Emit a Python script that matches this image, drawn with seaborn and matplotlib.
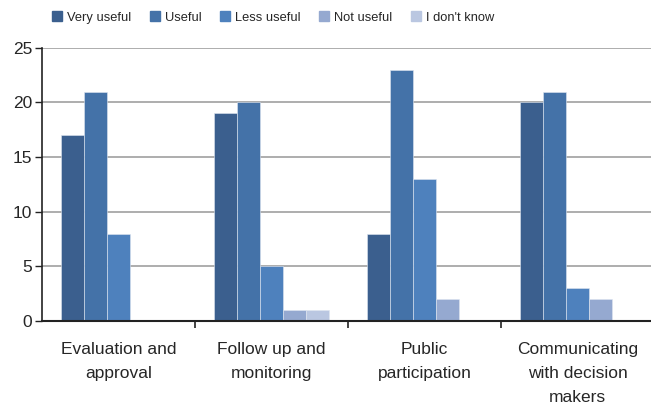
import pandas as pd
import matplotlib
matplotlib.use("Agg")
import matplotlib.pyplot as plt
import seaborn as sns

# data
categories = ["Evaluation and\napproval", "Follow up and\nmonitoring",
              "Public\nparticipation", "Communicating\nwith decision\nmakers"]
series = ["Very useful", "Useful", "Less useful", "Not useful", "I don't know"]
very_useful = [17, 19, 8, 20]
useful = [21, 20, 23, 21]
less_useful = [8, 5, 13, 3]
not_useful = [0, 1, 2, 2]
dont_know = [0, 1, 0, 0]
colors = ["#3b5f8e", "#4472a8", "#4e81bd", "#95a9d0", "#bac7e1"]

rows = []
for name, vals in zip(series, [very_useful, useful, less_useful, not_useful, dont_know]):
    for cat, v in zip(categories, vals):
        rows.append({"category": cat, "answer": name, "count": v})
df = pd.DataFrame(rows)

sns.set_style("white")
plt.rcParams["font.family"] = ["Liberation Sans", "DejaVu Sans"]

fig = plt.figure(figsize=(6.51, 4.05), dpi=100)
ax = fig.add_axes([0.0645, 0.207, 0.94, 0.675])

sns.barplot(data=df, x="category", y="count", hue="answer", hue_order=series,
            palette=colors, saturation=1, width=0.75, edgecolor="#dfe6f0",
            linewidth=0.4, legend=False, ax=ax)

ax.set_ylim(0, 25)
ax.set_xlim(-0.5, 3.5)
ax.set_yticks(range(0, 26, 5))
ax.yaxis.grid(True, color="#a0a0a0", linewidth=1.2)
ax.set_axisbelow(True)
ax.set_xlabel("")
ax.set_ylabel("")
for s in ["top", "right"]:
    ax.spines[s].set_visible(False)
ax.spines["left"].set_color("#222222")
ax.spines["bottom"].set_color("#222222")
ax.spines["left"].set_linewidth(1.2)
ax.spines["bottom"].set_linewidth(1.5)

ax.tick_params(axis="y", labelsize=12.5, length=5, width=1, color="#222222", pad=2, left=True)
ax.set_xticks([0.5, 1.5, 2.5], minor=True)
ax.tick_params(axis="x", which="minor", length=5, width=1.2, color="#222222", bottom=True)
ax.tick_params(axis="x", which="major", length=0, labelsize=12.5, pad=15)
ax.set_xticks(range(len(categories)))
ax.set_xticklabels(categories, fontsize=12.5)

handles = [plt.Rectangle((0, 0), 1, 1, color=c) for c in colors]
fig.legend(handles, series, loc="center left", bbox_to_anchor=(0.08, 0.957),
           ncol=5, frameon=False, fontsize=9.3, handlelength=0.8, handleheight=0.8,
           handletextpad=0.35, columnspacing=1.45, borderpad=0, borderaxespad=0)

# wider line spacing for the multi-line category labels
fig.canvas.draw()
for lbl in ax.get_xticklabels():
    lbl.set_linespacing(1.75)

fig.savefig("out.png", dpi=100)
